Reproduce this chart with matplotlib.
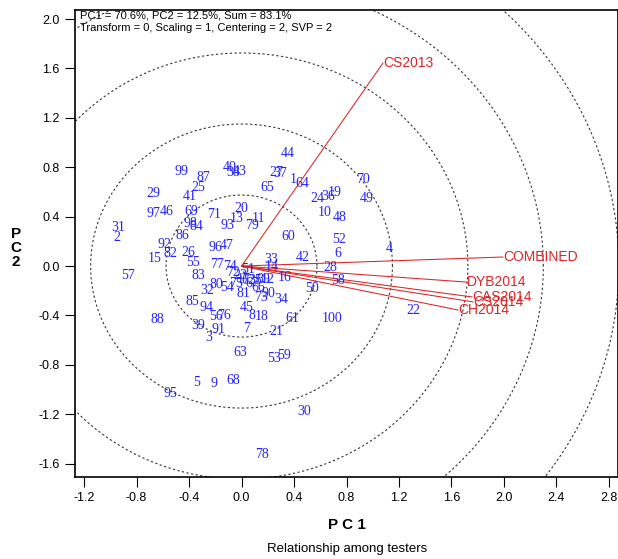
import numpy as np
import matplotlib
matplotlib.use("Agg")
import matplotlib.pyplot as plt

# ---------------- data ----------------
genotypes = [str(i) for i in range(1, 101)]
gen_x = [0.392, -0.949, -0.248, 1.124, -0.339, 0.735, 0.042, 0.080, -0.210, 0.636,
         0.126, 0.202, -0.034, 0.232, -0.659, 0.331, 0.019, 0.156, 0.712, -0.004,
         0.263, 1.307, -0.011, 0.575, -0.331, -0.408, 0.263, 0.674, -0.674, 0.476,
         -0.941, -0.263, 0.225, 0.301, 0.103, 0.659, 0.293, -0.065, -0.331, -0.088,
         -0.392, 0.469, -0.011, 0.354, 0.042, -0.568, -0.110, 0.750, 0.956, 0.537,
         0.050, 0.743, 0.248, -0.110, -0.370, -0.194, -0.865, 0.735, 0.324, 0.354,
         0.385, 0.050, -0.011, 0.461, 0.194, 0.126, 0.080, -0.065, -0.385, 0.926,
         -0.210, -0.065, 0.149, -0.088, -0.042, -0.133, -0.187, 0.156, 0.080, -0.194,
         0.011, -0.545, -0.331, -0.347, -0.377, -0.453, -0.293, -0.644, 0.164, 0.202,
         -0.179, -0.590, -0.110, -0.270, -0.545, -0.202, -0.674, -0.392, -0.461, 0.690]
gen_y = [0.704, 0.235, -0.575, 0.138, -0.939, 0.105, -0.502, -0.397, -0.955, 0.437,
         0.381, -0.105, 0.381, 0.000, 0.065, -0.089, -0.105, -0.405, 0.599, 0.462,
         -0.526, -0.364, -0.073, 0.543, 0.632, 0.113, 0.761, -0.008, 0.591, -1.174,
         0.316, -0.202, 0.057, -0.267, -0.121, 0.559, 0.753, 0.761, -0.478, 0.794,
         0.567, 0.073, 0.769, 0.915, -0.332, 0.445, 0.170, 0.389, 0.543, -0.178,
         -0.032, 0.211, -0.745, -0.170, 0.032, -0.405, -0.073, -0.121, -0.721, 0.243,
         -0.421, -0.121, -0.696, 0.672, 0.632, -0.170, -0.138, -0.923, 0.445, 0.704,
         0.421, -0.049, -0.251, 0.000, -0.138, -0.397, 0.016, -1.522, 0.332, -0.146,
         -0.219, 0.105, -0.073, 0.324, -0.291, 0.251, 0.713, -0.429, -0.113, -0.219,
         -0.510, 0.178, 0.332, -0.332, -1.028, 0.154, 0.429, 0.348, 0.769, -0.421]

testers = ["CS2013", "COMBINED", "DYB2014", "CAS2014", "CS2014", "CH2014"]
tester_x = [1.078, 1.992, 1.718, 1.756, 1.764, 1.650]
tester_y = [1.644, 0.073, -0.130, -0.250, -0.290, -0.356]

circle_radii = [0.575, 1.15, 1.725, 2.30, 2.875]

xticks = [-1.2, -0.8, -0.4, 0.0, 0.4, 0.8, 1.2, 1.6, 2.0, 2.4, 2.8]
yticks = [-1.6, -1.2, -0.8, -0.4, 0.0, 0.4, 0.8, 1.2, 1.6, 2.0]

title_line1 = "PC1 = 70.6%, PC2 = 12.5%, Sum = 83.1%"
title_line2 = "Transform = 0, Scaling = 1, Centering = 2, SVP = 2"

# ---------------- figure ----------------
W, H = 618, 559
fig = plt.figure(figsize=(W / 100, H / 100), dpi=100)
plt.rcParams['font.family'] = ['Liberation Sans', 'DejaVu Sans']

left, right, top, bottom = 75, 618, 10, 477
ax = fig.add_axes([left / W, 1 - bottom / H, (right - left) / W, (bottom - top) / H])
ax.set_xlim(-1.269, 2.869)
ax.set_ylim(-1.708, 2.073)

# concentric circles
t = np.linspace(0, 2 * np.pi, 721)
for r in circle_radii:
    ax.plot(r * np.cos(t), r * np.sin(t), color='#333333', lw=0.8,
            linestyle=(0, (2, 2.2)), zorder=1)

# tester vectors
red = '#dc2424'
for name, x, y in zip(testers, tester_x, tester_y):
    ax.plot([0, x], [0, y], color=red, lw=0.75, zorder=2)
    ax.text(x, y, name, color=red, fontsize=10, ha='left', va='center', zorder=4)

# genotype labels
for name, x, y in zip(genotypes, gen_x, gen_y):
    ax.text(x, y, name, color='#2323ff', fontsize=10, family='Liberation Serif',
            ha='center', va='center', zorder=3)

ax.set_xticks(xticks)
ax.set_yticks(yticks)
ax.set_xticklabels([f"{v:.1f}" for v in xticks])
ax.set_yticklabels([f"{v:.1f}" for v in yticks])
ax.tick_params(direction='out', length=7, width=0.8, labelsize=9, pad=4,
               top=False, right=False)
for s in ax.spines.values():
    s.set_linewidth(1.2)

fig.text(80 / W, 1 - 16 / H, title_line1, fontsize=8, ha='left', va='center')
fig.text(80 / W, 1 - 28 / H, title_line2, fontsize=8, ha='left', va='center')

fig.text(347 / W, 1 - 525 / H, "P C 1", fontsize=11, fontweight='bold',
         ha='center', va='center')
for ch, py in zip(["P", "C", "2"], [234, 248, 262]):
    fig.text(16 / W, 1 - py / H, ch, fontsize=11, fontweight='bold',
             ha='center', va='center')
fig.text(347 / W, 1 - 549 / H, "Relationship among testers", fontsize=9.5,
         ha='center', va='center')

fig.savefig("out.png", dpi=100)
